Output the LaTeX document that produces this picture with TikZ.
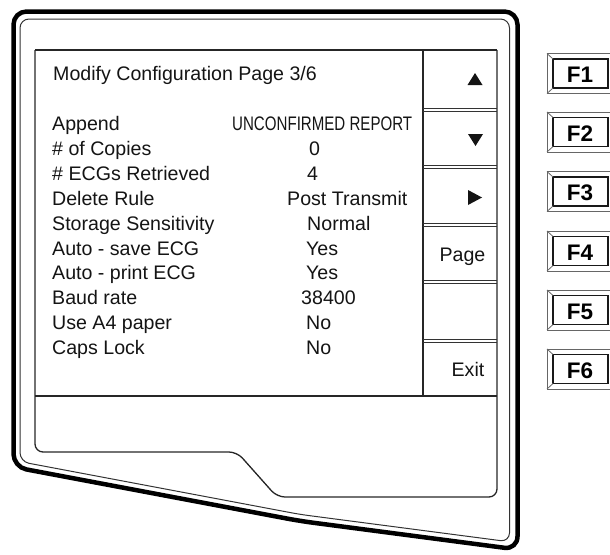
\documentclass[tikz,border=0pt]{standalone}
\usepackage{fontspec}
\setmainfont{Liberation Sans}
\usepackage{graphicx}
\tikzset{
  bezelthick/.style={line width=4.5pt, black, rounded corners=13pt, line join=round},
  bezelthin/.style={line width=1pt, black!80, rounded corners=9pt},
  screenline/.style={line width=1.3pt, black!85},
  keydiv/.style={line width=0.9pt, black!80},
  txt/.style={inner sep=0pt, font=\fontsize{19.6}{24}\selectfont, text=black!92},
  lbl/.style={txt, anchor=base west},
  softlbl/.style={txt, anchor=base east},
  keyouter/.style={line width=0.8pt, black!60},
  keyinner/.style={line width=1.4pt, black!90},
  keytxt/.style={inner sep=0pt, font=\fontsize{22.5}{26}\selectfont\bfseries, text=black},
  arrowglyph/.style={fill=black!92}
}
\begin{document}
\begin{tikzpicture}[x=1pt, y=-1pt]
  \useasboundingbox (0,0) rectangle (610,554);
  \clip (0,0) rectangle (610,554);

  % monitor bezel: heavy outer rim and thin inner rim
  \draw[bezelthick] (200,11.5) -- (517.5,11.5) -- (517.5,549.5) -- (300,521)
        -- (13.5,467) -- (13.5,11.5) -- cycle;
  \draw[bezelthin] (200,19) -- (509.5,19) -- (509.5,541.8) -- (300,514.4)
        -- (20,461.6) -- (20,19) -- cycle;

  % display window with the lower panel
  \draw[screenline] (35,50) -- (497,50);
  \draw[screenline, rounded corners=8pt] (35,50) -- (35,452) -- (237,452)
        -- (277,497) -- (497,497) -- (497,50);
  \draw[screenline, line width=1.6pt] (35,396) -- (497,396);

  % soft key column
  \draw[screenline] (423,50) -- (423,396);
  \foreach \d in {110,167,225,282,341} {
    \draw[keydiv] (423,\d-1.6) -- (497,\d-1.6);
    \draw[keydiv] (423,\d+1.6) -- (497,\d+1.6);
  }

  % soft key symbols
  \fill[arrowglyph] (467.5,85) -- (482.5,85) -- (475,73) -- cycle;
  \fill[arrowglyph] (468,134) -- (483,134) -- (475.5,146) -- cycle;
  \fill[arrowglyph] (468,190) -- (468,205) -- (482,197.5) -- cycle;
  \node[softlbl] (skpage) at (485.5,261) {Page};
  \node[softlbl] (skexit) at (484.5,376) {Exit};

  % page title
  \node[lbl] (title) at (53,80) {Modify Configuration Page 3/6};

  % setting names
  \node[lbl] (l1)  at (52,130.5) {Append};
  \node[lbl] (l2)  at (52,155.4) {\# of Copies};
  \node[lbl] (l3)  at (52,180.3) {\# ECGs Retrieved};
  \node[lbl] (l4)  at (52,205.2) {Delete Rule};
  \node[lbl] (l5)  at (52,230.1) {Storage Sensitivity};
  \node[lbl] (l6)  at (52,255.0) {Auto - save ECG};
  \node[lbl] (l7)  at (52,279.9) {Auto - print ECG};
  \node[lbl] (l8)  at (52,304.8) {Baud rate};
  \node[lbl] (l9)  at (52,329.7) {Use A4 paper};
  \node[lbl] (l10) at (52,354.6) {Caps Lock};

  % setting values
  \node[lbl] (v1)  at (232,130.5) {\scalebox{0.77}[1]{UNCONFIRMED REPORT}};
  \node[lbl] (v2)  at (309,155.4) {0};
  \node[lbl] (v3)  at (307,180.3) {4};
  \node[lbl] (v4)  at (287,205.2) {Post Transmit};
  \node[lbl] (v5)  at (307,230.1) {Normal};
  \node[lbl] (v6)  at (306,255.0) {Yes};
  \node[lbl] (v7)  at (306,279.9) {Yes};
  \node[lbl] (v8)  at (301,304.8) {38400};
  \node[lbl] (v9)  at (306,329.7) {No};
  \node[lbl] (v10) at (306,354.6) {No};

  % hardware function keys
  \foreach \i/\t in {1/53.5,2/112,3/171.5,4/231,5/290,6/349} {
    \draw[keyouter] (547,\t) rectangle (616,\t+40);
    \draw[keyinner] (553,\t+5.5) rectangle (608,\t+34.5);
    \draw[keyouter] (547,\t) -- (553,\t+5.5);
    \draw[keyouter] (547,\t+40) -- (553,\t+34.5);
    \node[keytxt] (fkey\i) at (580,\t+21.5) {F\i};
  }
\end{tikzpicture}
\end{document}
